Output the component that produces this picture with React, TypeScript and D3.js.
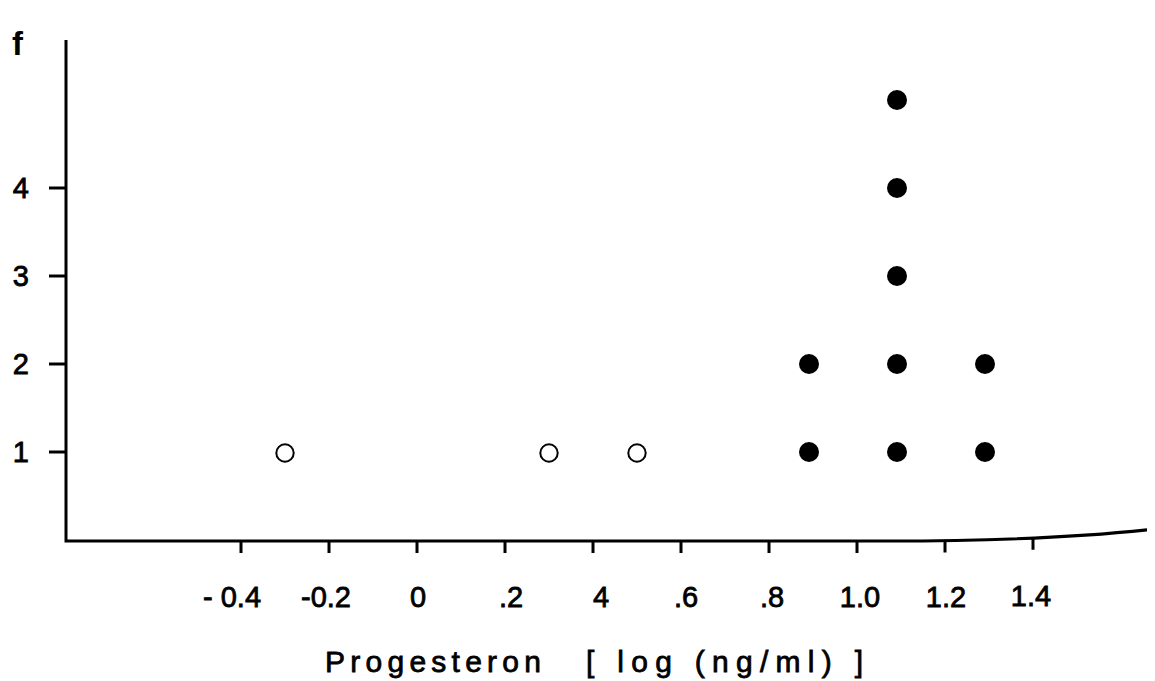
import React from "react";
import * as d3 from "d3";

const xTicks = [-0.4, -0.2, 0, 0.2, 0.4, 0.6, 0.8, 1.0, 1.2, 1.4];
const xTickLabels = ["- 0.4", "-0.2", "0", ".2", "4", ".6", ".8", "1.0", "1.2", "1.4"];
const yTicks = [1, 2, 3, 4];
const yTickLabels = ["1", "2", "3", "4"];
const openX = [-0.3, 0.3, 0.5];
const openY = [1, 1, 1];
const filledX = [0.9, 0.9, 1.1, 1.1, 1.1, 1.1, 1.1, 1.3, 1.3];
const filledY = [1, 2, 1, 2, 3, 4, 5, 1, 2];
const xTitle = "Progesteron";
const xTitleUnit = "[ log  (ng/ml) ]";
const yTitle = "f";

export default function App() {
  const W = 1155, H = 681;
  const x = d3.scaleLinear().domain([0, 1]).range([409, 849]);
  const y = d3.scaleLinear().domain([0, 1]).range([532, 444]);
  const axisY = 533;
  const axisX = 58;
  const curl = (px: number) => (px <= 880 ? 0 : -11 * Math.pow((px - 880) / 267, 2));
  const fontFam = "'Liberation Sans', Arial, sans-serif";
  const axisPath = `M${axisX},32 L${axisX},${axisY} L880,${axisY} Q1040,${axisY} 1147,${axisY - 12}`;
  const labelDx = [-9, -3, 1, 6, 8, 5, 3, 3, 1, -2];
  return (
    <svg width={W} height={H} style={{ display: "block", background: "#fff" }}>
      <path d={axisPath} fill="none" stroke="#000" strokeWidth={3} />
      {xTicks.map((t, i) => {
        const px = x(t);
        const off = curl(px);
        return (
          <g key={"xt" + i}>
            <line x1={px} x2={px} y1={axisY + off} y2={axisY + off + 12} stroke="#000" strokeWidth={3} />
            <text x={px + labelDx[i]} y={599 + off * 0.4} textAnchor="middle"
              fontFamily={fontFam} fontSize={29} fill="#000" stroke="#000" strokeWidth={0.8}>
              {xTickLabels[i]}
            </text>
          </g>
        );
      })}
      {yTicks.map((t, i) => (
        <g key={"yt" + i}>
          <line x1={axisX - 17} x2={axisX} y1={y(t)} y2={y(t)} stroke="#000" strokeWidth={3} />
          <text x={21} y={y(t) + 10} fontFamily={fontFam} fontSize={29}
            textAnchor="end" fill="#000" stroke="#000" strokeWidth={0.8}>{yTickLabels[i]}</text>
        </g>
      ))}
      <text x={4} y={47} fontFamily={fontFam} fontSize={33} fontWeight="bold" fill="#000">{yTitle}</text>
      <text x={317} y={664} fontFamily={fontFam} fontSize={30} fill="#000" stroke="#000" strokeWidth={0.8}
        textLength={216} lengthAdjust="spacing">{xTitle}</text>
      <text x={578} y={664} fontFamily={fontFam} fontSize={30} fill="#000" stroke="#000" strokeWidth={0.8}
        textLength={277} lengthAdjust="spacing">{xTitleUnit}</text>
      {openX.map((v, i) => (
        <circle key={"o" + i} cx={x(v)} cy={y(openY[i]) + 1} r={8.7} fill="#fff" stroke="#000" strokeWidth={2} />
      ))}
      {filledX.map((v, i) => (
        <circle key={"f" + i} cx={x(v) - 4} cy={y(filledY[i])} r={10} fill="#000" />
      ))}
    </svg>
  );
}
